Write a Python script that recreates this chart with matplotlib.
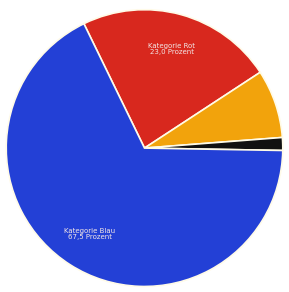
import matplotlib
matplotlib.use("Agg")
from matplotlib import pyplot as plt

# slice data, clockwise from the top-left edge
names = ["Rot", "Orange", "Schwarz", "Blau"]
values = [23.0, 8.0, 1.5, 67.5]
colors = ["#d8281e", "#f2a30c", "#111111", "#2340d6"]
labels = ["Kategorie Rot\n23,0 Prozent", "", "", "Kategorie Blau\n67,5 Prozent"]

fig = plt.figure(figsize=(2.89, 2.92), dpi=100)
ax = fig.add_axes([0, 0, 1, 1])

wedges, texts = ax.pie(values, colors=colors, labels=labels, startangle=116,
                       counterclock=False, labeldistance=0.74,
                       wedgeprops=dict(edgecolor="#fffbe8", linewidth=1.2),
                       textprops=dict(color="#f3e6e6", fontsize=5, ha="center",
                                      linespacing=1.0))

ax.set_xlim(-1.045, 1.045)
ax.set_ylim(-1.04, 1.07)
ax.set_aspect("auto")

fig.savefig("out.png", dpi=100)
